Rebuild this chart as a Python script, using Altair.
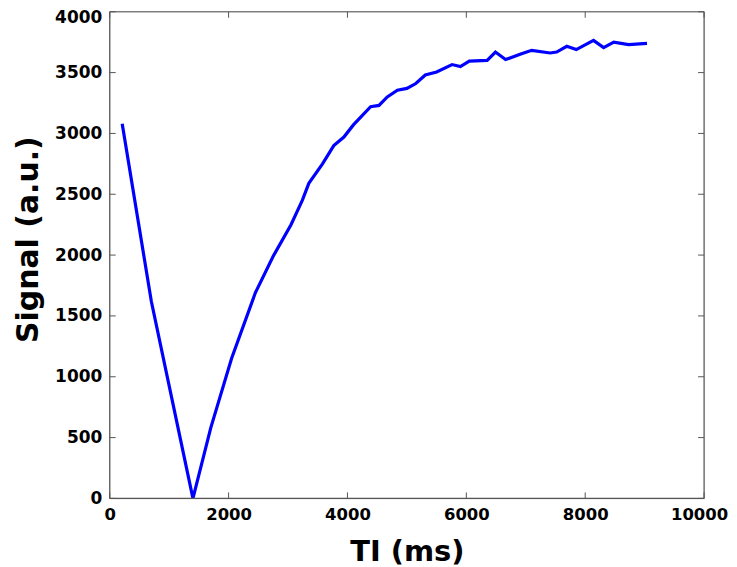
import altair as alt
import pandas as pd

# Data
ti_ms = [210, 700, 1050, 1400, 1700, 2050, 2450, 2750, 3050, 3240, 3350, 3580, 3770,
         3940, 4100, 4390, 4530, 4670, 4840, 5000, 5150, 5310, 5500, 5760, 5900,
         6050, 6350, 6490, 6660, 6940, 7100, 7410, 7520, 7690, 7850, 8140, 8310,
         8480, 8730, 9040]
signal = [3080, 1620, 810, 0, 580, 1150, 1690, 1990, 2250, 2450, 2590, 2750, 2900,
          2970, 3070, 3220, 3230, 3300, 3355, 3370, 3410, 3480, 3505, 3566, 3550,
          3595, 3600, 3669, 3607, 3656, 3683, 3661, 3669, 3716, 3689, 3765, 3705,
          3751, 3730, 3740]

x_ticks = [0, 2000, 4000, 6000, 8000, 10000]
y_ticks = [0, 500, 1000, 1500, 2000, 2500, 3000, 3500, 4000]

W, H = 596, 488
FONT = "DejaVu Sans"

df = pd.DataFrame({"TI": ti_ms, "Signal": signal})
dx = pd.DataFrame({"v": x_ticks})
dy = pd.DataFrame({"v": y_ticks})
frame = pd.DataFrame({"x0": [0], "x1": [10000], "y0": [0], "y1": [4000]})

xscale = alt.Scale(domain=[0, 10000], nice=False, zero=False)
yscale = alt.Scale(domain=[0, 4000], nice=False, zero=False)

line = alt.Chart(df).mark_line(color="#0000FF", strokeWidth=3.2).encode(
    x=alt.X("TI:Q", scale=xscale,
            axis=alt.Axis(values=x_ticks, title="TI (ms)", tickSize=0, domain=False,
                          grid=False, labelFont=FONT, labelFontSize=16.5,
                          labelFontWeight="bold", labelColor="#000", labelPadding=8,
                          labelOffset=alt.expr("datum.value == 10000 ? -5 : 0"),
                          titleFont=FONT, titleFontSize=29, titleFontWeight="bold",
                          titleColor="#000", titleBaseline="alphabetic",
                          titleY=62, format="d", labelFlush=False)),
    y=alt.Y("Signal:Q", scale=yscale,
            axis=alt.Axis(values=y_ticks, title="Signal (a.u.)", tickSize=0, domain=False,
                          grid=False, labelFont=FONT, labelFontSize=17,
                          labelFontWeight="bold", labelColor="#000", labelPadding=8,
                          labelOffset=alt.expr("datum.value == 4000 ? 6 : 0"),
                          titleFont=FONT, titleFontSize=30, titleFontWeight="bold",
                          titleColor="#000", titleBaseline="alphabetic",
                          titleAlign="center", titleAngle=270,
                          titleX=-72, titleY=228, format="d", labelFlush=False)),
)

tick_color = "#555555"
bottom_ticks = alt.Chart(dx).mark_rule(color=tick_color, strokeWidth=1).encode(
    x=alt.X("v:Q", scale=xscale), y=alt.value(H), y2=alt.value(H - 6))
top_ticks = alt.Chart(dx).mark_rule(color=tick_color, strokeWidth=1).encode(
    x=alt.X("v:Q", scale=xscale), y=alt.value(0), y2=alt.value(6))
left_ticks = alt.Chart(dy).mark_rule(color=tick_color, strokeWidth=1).encode(
    y=alt.Y("v:Q", scale=yscale), x=alt.value(0), x2=alt.value(6))
right_ticks = alt.Chart(dy).mark_rule(color=tick_color, strokeWidth=1).encode(
    y=alt.Y("v:Q", scale=yscale), x=alt.value(W), x2=alt.value(W - 6))

frame_color = "#555555"
f_left = alt.Chart(frame).mark_rule(color=frame_color, strokeWidth=1.2).encode(
    x=alt.X("x0:Q", scale=xscale), y=alt.Y("y0:Q", scale=yscale), y2="y1:Q")
f_right = alt.Chart(frame).mark_rule(color=frame_color, strokeWidth=1.2).encode(
    x=alt.X("x1:Q", scale=xscale), y=alt.Y("y0:Q", scale=yscale), y2="y1:Q")
f_bottom = alt.Chart(frame).mark_rule(color=frame_color, strokeWidth=1.2).encode(
    y=alt.Y("y0:Q", scale=yscale), x=alt.X("x0:Q", scale=xscale), x2="x1:Q")
f_top = alt.Chart(frame).mark_rule(color=frame_color, strokeWidth=1.2).encode(
    y=alt.Y("y1:Q", scale=yscale), x=alt.X("x0:Q", scale=xscale), x2="x1:Q")

chart = alt.layer(line, bottom_ticks, top_ticks, left_ticks, right_ticks,
                  f_left, f_right, f_bottom, f_top).properties(
    width=W, height=H, autosize="none",
    padding={"left": 102, "top": 3, "right": 25, "bottom": 68},
).configure_view(strokeWidth=0).configure(background="white")

chart.save("out.html", embed_options={"renderer": "svg", "actions": False})
